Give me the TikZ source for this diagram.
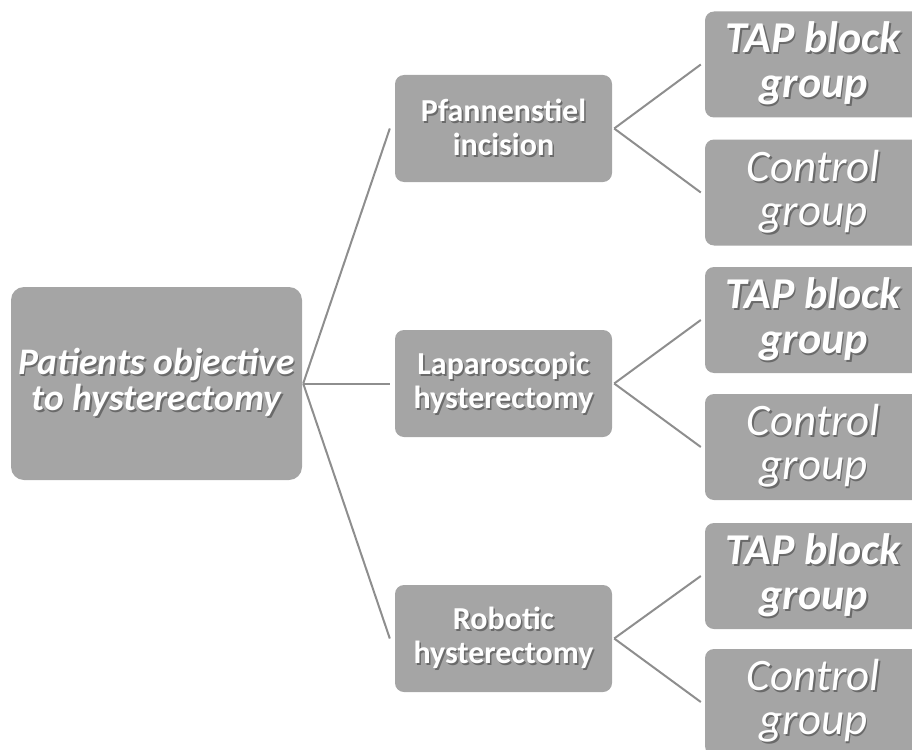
\documentclass[tikz,border=0pt]{standalone}
\usepackage{fontspec}
\setmainfont{Carlito}
\definecolor{boxgray}{HTML}{A5A5A5}
\definecolor{linegray}{HTML}{8E8E8E}
\definecolor{shadowgray}{HTML}{6A6A6A}
\newcommand\shline[1]{\makebox[0pt][l]{\raisebox{-1.6pt}{\hspace{1.6pt}\textcolor{shadowgray}{#1}}}\textcolor{white}{#1}}
\tikzset{
  box/.style={fill=boxgray, draw=none, align=center, inner sep=0pt},
  rootbox/.style={box, rounded corners=13pt, minimum width=291pt, minimum height=193pt,
    font=\fontsize{37.5}{36}\selectfont\bfseries\itshape},
  midbox/.style={box, rounded corners=9pt, minimum width=217pt, minimum height=107pt,
    font=\fontsize{32}{34}\selectfont\bfseries},
  tapbox/.style={box, rounded corners=9pt, minimum width=217pt, minimum height=106pt,
    font=\fontsize{44}{45}\selectfont\bfseries\itshape},
  ctlbox/.style={box, rounded corners=9pt, minimum width=217pt, minimum height=106pt,
    font=\fontsize{45}{44}\selectfont\itshape},
  conn/.style={draw=linegray, line width=2pt},
}
\begin{document}
\begin{tikzpicture}[x=1pt,y=-1pt]
\useasboundingbox (0,0) rectangle (912,749);
\clip (0,0) rectangle (912,749);
\node[rootbox] (root) at (156.5,383.5) {\shline{Patients objective}\\\shline{to hysterectomy}};
\node[midbox] (m1) at (503.5,128.5) {\shline{Pfannenstiel}\\\shline{incision}};
\node[midbox] (m2) at (503.5,383.5) {\shline{Laparoscopic}\\\shline{hysterectomy}};
\node[midbox] (m3) at (503.5,638.5) {\shline{Robotic}\\\shline{hysterectomy}};
\node[tapbox] (t1) at (813.5,64.5) {\shline{TAP block}\\\shline{group}};
\node[ctlbox] (c1) at (813.5,192.5) {\shline{Control}\\\shline{group}};
\node[tapbox] (t2) at (813.5,320) {\shline{TAP block}\\\shline{group}};
\node[ctlbox] (c2) at (813.5,447) {\shline{Control}\\\shline{group}};
\node[tapbox] (t3) at (813.5,576) {\shline{TAP block}\\\shline{group}};
\node[ctlbox] (c3) at (813.5,702) {\shline{Control}\\\shline{group}};
\foreach \m in {m1,m2,m3}
  \draw[conn] ([xshift=1pt]root.east) -- ([xshift=-5pt]\m.west);
\foreach \m/\a/\b in {m1/t1/c1, m2/t2/c2, m3/t3/c3} {
  \draw[conn] ([xshift=2pt]\m.east) -- ([xshift=-4pt]\a.west);
  \draw[conn] ([xshift=2pt]\m.east) -- ([xshift=-4pt]\b.west);
}
\end{tikzpicture}
\end{document}
